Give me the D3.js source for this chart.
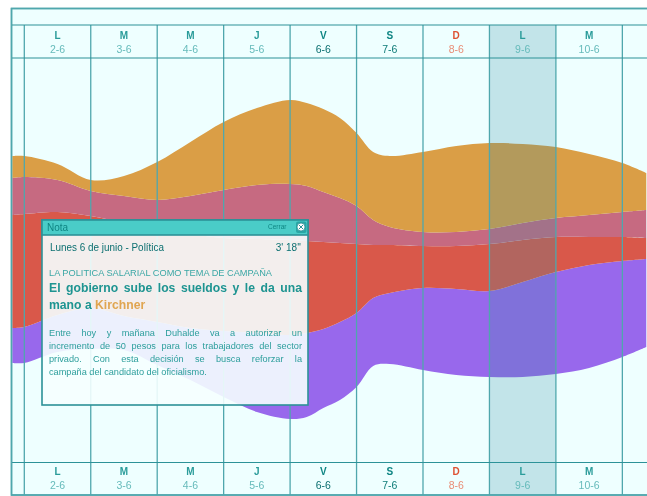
<!DOCTYPE html>
<html><head><meta charset="utf-8">
<script src="https://cdn.jsdelivr.net/npm/d3@7"></script>
<style>html,body{margin:0;padding:0;background:#fff}svg{display:block;filter:blur(.3px)}text{font-family:"Liberation Sans",Arial,sans-serif}</style>
</head><body><svg id="c" width="647" height="496"></svg>
<script>
const dayValues = [2,3,4,5,6,7,8,9,10,11];
const dayLetters = ["L","M","M","J","V","S","D","L","M",""];
const dateLabels = ["2-6","3-6","4-6","5-6","6-6","7-6","8-6","9-6","10-6",""];
const samplePoints = [1.82,2,2.5,3,3.5,4,4.5,5,5.5,6,6.25,6.5,6.75,7,7.25,7.5,8,8.5,9,9.5,10,10.5,11,11.36];
const baseline = [99,99,110,113,112,97,82,65,50,43,45,54,62,75,96,98,92,87,85,85,88,94,105,115];
const purpleSeries = [35,36,37,41,34,43,52,66,79,84,84,79,78,74,68,71,82,86,86,95,102,103,96,88];
const redSeries = [113,113,103,92,93,92,94,93,94,95,92,87,79,69,53,48,42,43,47,42,35,28,24,21];
const pinkSeries = [37,37,32,25,27,30,38,48,54,56,55,50,45,38,25,18,14,14,15,17,19,22,25,28];
const orangeSeries = [22,21,16,11,20,38,54,68,77,84,83,83,80,73,68,71,80,86,86,79,71,61,49,37];
const seriesKeys = ["base","purple","red","pink","orange"];
const seriesColors = {purple:"#9868EC",red:"#D9584A",pink:"#C66A81",orange:"#DA9E46"};
const selectedDay = 9;
const noteBody = ["Entre hoy y mañana Duhalde va a autorizar un","incremento de 50 pesos para los trabajadores del sector","privado. Con esta decisión se busca reforzar la"];
const noteBodyLast = "campaña del candidato del oficialismo.";

const svg = d3.select("#c");
const x = d3.scaleLinear().domain([2,12]).range([24.3,688.8]);
const y = d3.scaleLinear().domain([0,404]).range([462,58]);
const line = "#4FA7AD", lineDark = "#2C9298", bg = "#EEFFFF";

svg.append("rect").attr("x",11.5).attr("y",8.5).attr("width",640).attr("height",486.5).attr("fill",bg).attr("stroke",line).attr("stroke-width",1.5);

const rows = samplePoints.map((d,i)=>({day:d,base:baseline[i],purple:purpleSeries[i],red:redSeries[i],pink:pinkSeries[i],orange:orangeSeries[i]}));
const stack = d3.stack().keys(seriesKeys)(rows);
const area = d3.area().x(d=>x(d.data.day)).y0(d=>y(d[0])).y1(d=>y(d[1])).curve(d3.curveCatmullRom.alpha(.5));
svg.append("g").selectAll("path").data(stack.filter(s=>s.key!=="base")).join("path")
  .attr("d",area).attr("fill",s=>seriesColors[s.key]);

svg.append("rect").attr("x",x(selectedDay)).attr("y",25).attr("width",x(selectedDay+1)-x(selectedDay)).attr("height",470)
  .attr("fill","rgb(55,143,165)").attr("fill-opacity",0.24);

const grid = svg.append("g").attr("transform","translate(0,25)")
  .call(d3.axisBottom(x).tickValues(dayValues).tickSize(470).tickFormat("").offset(0));
grid.select(".domain").remove();
grid.selectAll("line").attr("stroke",line).attr("stroke-width",1.3);

[25,58,462.5].forEach(v=>svg.append("line").attr("x1",11).attr("x2",647).attr("y1",v).attr("y2",v).attr("stroke",lineDark).attr("stroke-width",1.2));
svg.append("rect").attr("x",11.5).attr("y",8.5).attr("width",640).attr("height",486.5).attr("fill","none").attr("stroke",line).attr("stroke-width",1.5);

const letterColor = (d,i)=> i===6?"#DE5233": (i===4||i===5)?"#0E8583":"#2A9C9A";
const dateColor = (d,i)=> i===6?"#E98D76": i===4?"#0B6F70": i===5?"#0E7C78":"#66BBBB";
[[38.5,52.5],[475,488.5]].forEach(([a,b])=>{
  const g = svg.append("g").attr("text-anchor","middle");
  g.selectAll(".l").data(dayLetters).join("text").attr("x",(d,i)=>x(dayValues[i]+.5)).attr("y",a).attr("font-size",10).attr("font-weight","bold").attr("fill",letterColor).text(d=>d);
  g.selectAll(".d").data(dateLabels).join("text").attr("x",(d,i)=>x(dayValues[i]+.5)).attr("y",b).attr("font-size",10.5).attr("fill",dateColor).text(d=>d);
});

// Nota panel
const note = svg.append("g");
note.append("rect").attr("x",42).attr("y",220).attr("width",266).attr("height",185).attr("fill","#F5FFFF").attr("fill-opacity",0.9).attr("stroke","#2C9298").attr("stroke-width",1.6);
note.append("rect").attr("x",42).attr("y",220).attr("width",266).attr("height",15).attr("fill","#4ACCC8").attr("stroke","#2C9298").attr("stroke-width",1.6);
const t = (tx,ty,size,fill,s,extra={})=>{const e=note.append("text").attr("x",tx).attr("y",ty).attr("font-size",size).attr("fill",fill).text(s);Object.entries(extra).forEach(([k,v])=>e.attr(k,v));return e;};
t(47,231,10,"#0E8583","Nota");
t(268,228.5,6.5,"#0E8583","Cerrar");
note.append("rect").attr("x",296).attr("y",221.5).attr("width",10.5).attr("height",11.5).attr("rx",2).attr("fill","#2AA5A5");
note.append("circle").attr("cx",301).attr("cy",227).attr("r",4).attr("fill","#fff").attr("stroke","#2C9298").attr("stroke-width",.8);
note.append("path").attr("d","M299 225L303 229M303 225L299 229").attr("stroke","#2C9298").attr("stroke-width",1);
t(50,251,10,"#0B6F70","Lunes 6 de junio - Política",{textLength:114,lengthAdjust:"spacingAndGlyphs"});
t(301,251,10,"#0B6F70","3' 18''",{"text-anchor":"end"});
t(49,276,9,"#3BA7A5","LA POLITICA SALARIAL COMO TEMA DE CAMPAÑA",{textLength:223,lengthAdjust:"spacingAndGlyphs"});
const justify=(e,w)=>{const s=e.text();const n=s.split(" ").length-1;const l=e.node().getComputedTextLength();e.attr("word-spacing",(w-l)/n);};
justify(t(49,292,12.2,"#1E9491","El gobierno sube los sueldos y le da una",{"font-weight":"bold"}),253);
const m=t(49,309,12.2,"#1E9491","mano a ",{"font-weight":"bold"});
m.append("tspan").attr("fill","#E0A550").text("Kirchner");
noteBody.forEach((s,i)=>justify(t(49,336+i*13,9.2,"#2C9E9C",s),253));
t(49,375,9.2,"#2C9E9C",noteBodyLast);
</script></body></html>
